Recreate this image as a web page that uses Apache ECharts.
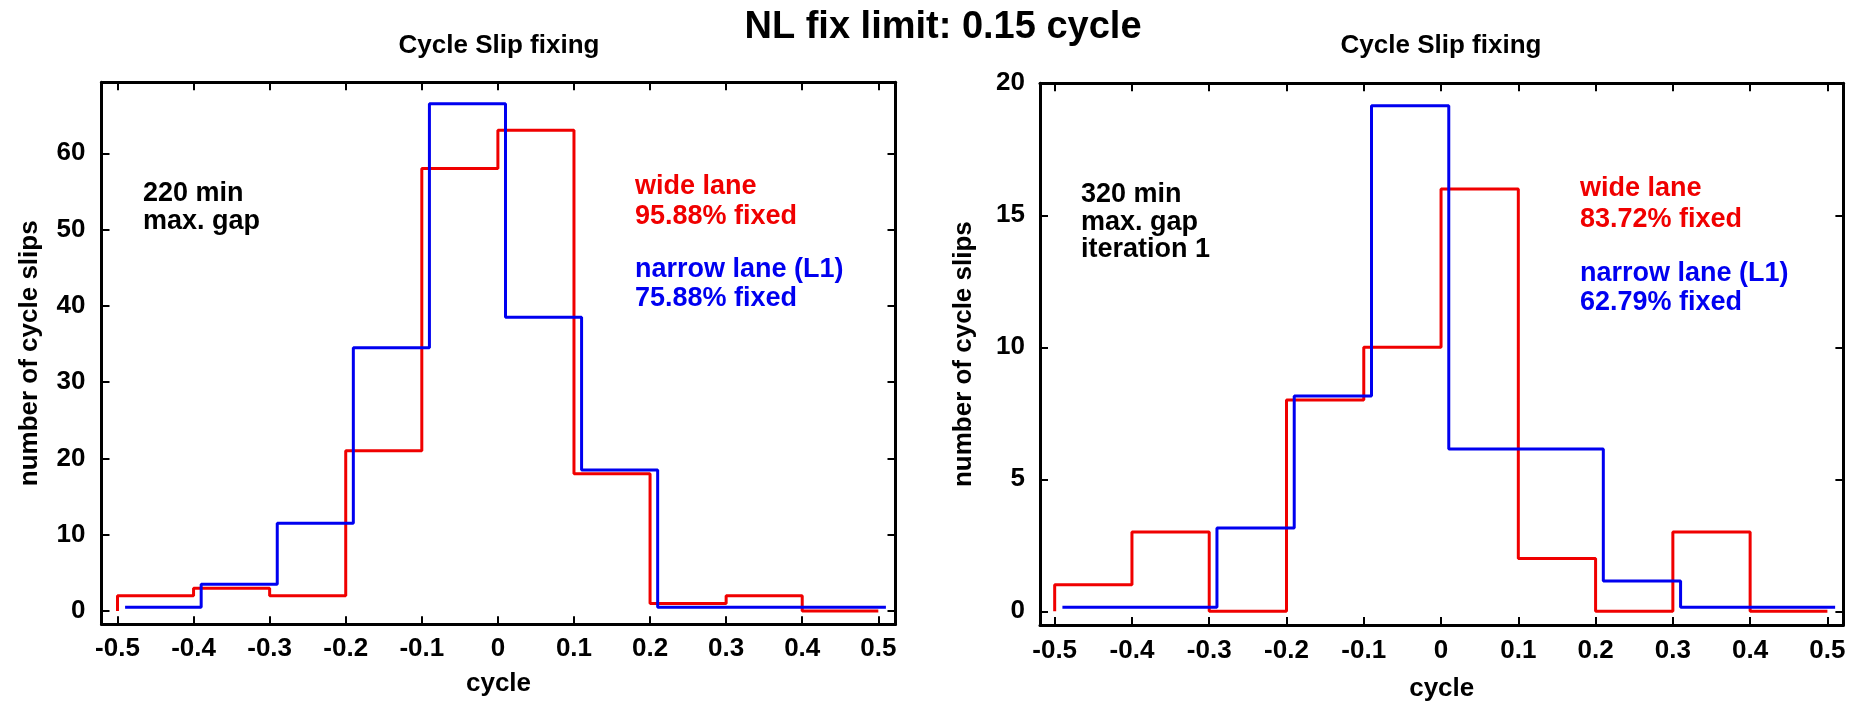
<!DOCTYPE html>
<html>
<head>
<meta charset="utf-8">
<script src="https://cdn.jsdelivr.net/npm/echarts@6/dist/echarts.min.js"></script>
<style>
  html, body { margin: 0; padding: 0; background: #fff; }
  #main { width: 1858px; height: 707px; }
</style>
</head>
<body>
<div id="main"></div>
<script>
// histogram bins (cycle)
var binEdges = [-0.5, -0.4, -0.3, -0.2, -0.1, 0, 0.1, 0.2, 0.3, 0.4, 0.5];

// 220 min max. gap
var leftWide = [2, 3, 2, 21, 58, 63, 18, 1, 2, 0];
var leftNarrow = [0, 3, 11, 34, 66, 38, 18, 0, 0, 0];
// 320 min max. gap, iteration 1
var rightWide = [1, 3, 0, 8, 10, 16, 2, 0, 3, 0];
var rightNarrow = [0, 0, 3, 8, 19, 6, 6, 1, 0, 0];

var xTicks = [-0.5, -0.4, -0.3, -0.2, -0.1, 0, 0.1, 0.2, 0.3, 0.4, 0.5];
var leftYTicks = [0, 10, 20, 30, 40, 50, 60];
var rightYTicks = [0, 5, 10, 15, 20];

var leftNotes = ['220 min', 'max. gap'];
var rightNotes = ['320 min', 'max. gap', 'iteration 1'];
var leftWideText = ['wide lane', '95.88% fixed'];
var leftNarrowText = ['narrow lane (L1)', '75.88% fixed'];
var rightWideText = ['wide lane', '83.72% fixed'];
var rightNarrowText = ['narrow lane (L1)', '62.79% fixed'];

var RED = '#f00000';
var BLUE = '#0000f0';
var FONT = 'Liberation Sans, Arial, sans-serif';

// gnuplot shifts the second curve a little so both stay visible
function steps(counts, dx, dy) {
  var pts = [[binEdges[0] + dx, dy]];
  counts.forEach(function (c, i) {
    pts.push([binEdges[i] + dx, c + dy]);
  });
  pts.push([binEdges[binEdges.length - 1] + dx, counts[counts.length - 1] + dy]);
  return pts;
}

function fmtX(v) {
  if (Math.abs(v) < 1e-9) return '0';
  return (Math.round(v * 10) / 10).toFixed(1);
}

var lineAx = { show: true, onZero: false, lineStyle: { color: '#000', width: 3 } };
var labelFont = { fontSize: 26, fontWeight: 'bold', color: '#000', fontFamily: FONT };
var nameFont = { fontSize: 26, fontWeight: 'bold', color: '#000', fontFamily: FONT, verticalAlign: 'middle' };

function xAxes(gi, min, max, nameGap, margin) {
  var tick = { show: true, inside: true, length: 8, customValues: xTicks, lineStyle: { color: '#000', width: 2 } };
  return [{
    gridIndex: gi, type: 'value', position: 'bottom', min: min, max: max,
    axisLine: lineAx, axisTick: tick,
    axisLabel: Object.assign({ customValues: xTicks, formatter: fmtX, margin: margin }, labelFont),
    splitLine: { show: false },
    name: 'cycle', nameLocation: 'middle', nameGap: nameGap, nameTextStyle: nameFont
  }, {
    gridIndex: gi, type: 'value', position: 'top', min: min, max: max,
    axisLine: lineAx, axisTick: tick, axisLabel: { show: false }, splitLine: { show: false }
  }];
}

function yAxes(gi, min, max, ticks, nameGap, margin) {
  var tick = { show: true, inside: true, length: 8, customValues: ticks, lineStyle: { color: '#000', width: 2 } };
  return [{
    gridIndex: gi, type: 'value', position: 'left', min: min, max: max,
    axisLine: lineAx, axisTick: tick,
    axisLabel: Object.assign({ customValues: ticks, margin: margin }, labelFont),
    splitLine: { show: false },
    name: 'number of cycle slips', nameLocation: 'middle', nameGap: nameGap, nameTextStyle: nameFont
  }, {
    gridIndex: gi, type: 'value', position: 'right', min: min, max: max,
    axisLine: lineAx, axisTick: tick, axisLabel: { show: false }, splitLine: { show: false }
  }];
}

function stepSeries(data, color, xi, yi) {
  return {
    type: 'line', step: 'end', data: data, xAxisIndex: xi, yAxisIndex: yi,
    showSymbol: false, symbol: 'none', silent: true, animation: false,
    lineStyle: { color: color, width: 3 }
  };
}

// one text line per element, y is the baseline
function textLines(lines, x, baseline, gap, size, color, align) {
  return lines.map(function (t, i) {
    return {
      type: 'text', x: x, y: baseline + i * gap - 0.35 * size, silent: true,
      style: {
        text: t, fill: color, font: 'bold ' + size + 'px ' + FONT,
        textAlign: align || 'left', textVerticalAlign: 'middle'
      }
    };
  });
}

var graphics = [].concat(
  textLines(['NL fix limit: 0.15 cycle'], 943, 41, 0, 38, '#000', 'center'),
  textLines(['Cycle Slip fixing'], 499, 55, 0, 26, '#000', 'center'),
  textLines(['Cycle Slip fixing'], 1441, 55, 0, 26, '#000', 'center'),
  textLines(leftNotes, 143, 203, 28, 27, '#000'),
  textLines(leftWideText, 635, 196, 30, 27, RED),
  textLines(leftNarrowText, 635, 279, 29, 27, BLUE),
  textLines(rightNotes, 1081, 204, 27.7, 27, '#000'),
  textLines(rightWideText, 1580, 198, 31, 27, RED),
  textLines(rightNarrowText, 1580, 283, 28.5, 27, BLUE)
);

var chart = echarts.init(document.getElementById('main'), null, { renderer: 'canvas' });
chart.setOption({
  backgroundColor: '#fff',
  animation: false,
  grid: [
    { left: 101.5, top: 82.3, width: 794, height: 542 },
    { left: 1040, top: 83.3, width: 803.4, height: 548.4 }
  ],
  xAxis: [].concat(
    xAxes(0, -0.521, 0.5226, 60, 12),
    xAxes(1, -0.519, 0.5207, 64, 13)
  ),
  yAxis: [].concat(
    yAxes(0, -1.74, 69.3, leftYTicks, 72, 16),
    yAxes(1, -0.52, 20, rightYTicks, 76, 15)
  ),
  series: [
    stepSeries(steps(leftWide, 0, 0), RED, 0, 0),
    stepSeries(steps(leftNarrow, 0.01, 0.5), BLUE, 0, 0),
    stepSeries(steps(rightWide, 0, 0), RED, 2, 2),
    stepSeries(steps(rightNarrow, 0.01, 0.15), BLUE, 2, 2)
  ],
  graphic: graphics
});
</script>
</body>
</html>
